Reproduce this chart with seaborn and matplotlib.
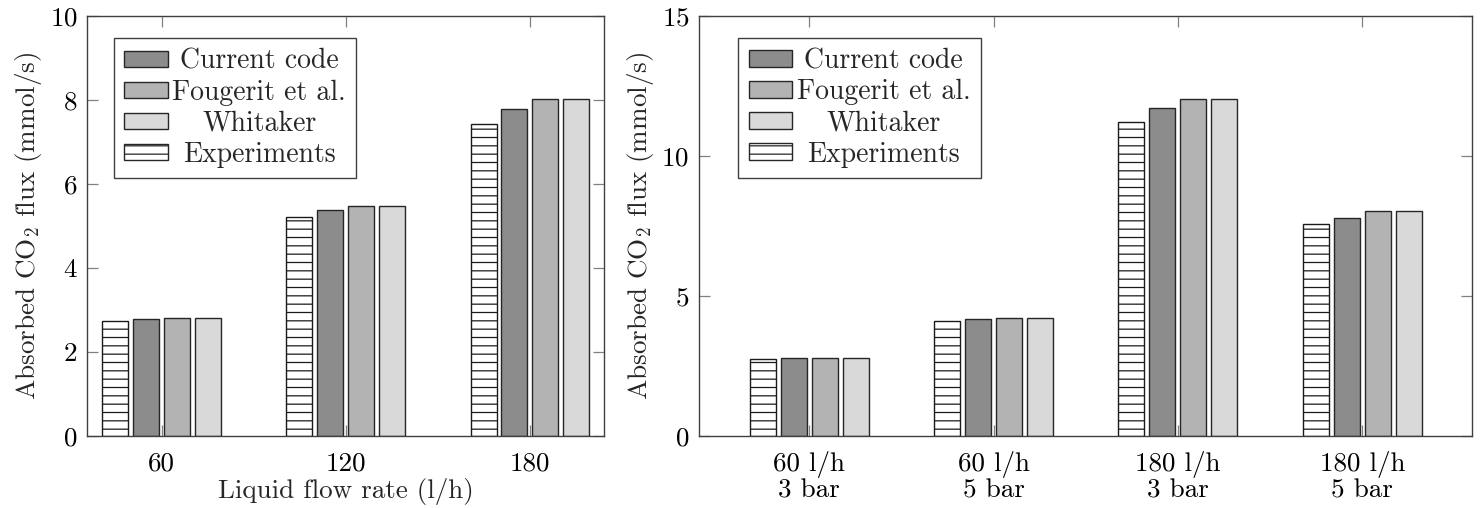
import matplotlib
matplotlib.use("Agg")
import matplotlib.pyplot as plt
import seaborn as sns
import pandas as pd
from matplotlib.patches import Patch

# ---------------- data ----------------
series = ["Experiments", "Current code", "Fougerit et al.", "Whitaker"]
legend_order = ["Current code", "Fougerit et al.", "Whitaker", "Experiments"]

left_cats = ["60", "120", "180"]
left_exp = [2.73, 5.22, 7.43]
left_cur = [2.78, 5.39, 7.79]
left_fou = [2.80, 5.47, 8.02]
left_whi = [2.80, 5.47, 8.02]

right_cats = ["60 l/h\n3 bar", "60 l/h\n5 bar", "180 l/h\n3 bar", "180 l/h\n5 bar"]
right_exp = [2.74, 4.11, 11.23, 7.57]
right_cur = [2.79, 4.19, 11.71, 7.79]
right_fou = [2.80, 4.21, 12.03, 8.04]
right_whi = [2.80, 4.21, 12.03, 8.04]

left_yticks = [0, 2, 4, 6, 8, 10]
right_yticks = [0, 5, 10, 15]

colors = {"Experiments": "#ffffff", "Current code": "#8c8c8c",
          "Fougerit et al.": "#b3b3b3", "Whitaker": "#d9d9d9"}


def long_df(cats, *vals):
    rows = []
    for s, v in zip(series, vals):
        for c, y in zip(cats, v):
            rows.append({"cat": c, "series": s, "val": y})
    return pd.DataFrame(rows)


df_left = long_df(left_cats, left_exp, left_cur, left_fou, left_whi)
df_right = long_df(right_cats, right_exp, right_cur, right_fou, right_whi)

# ---------------- style ----------------
FS = 19.5
LFS = 20
sns.set_theme(style="ticks")
plt.rcParams.update({
    "font.family": "serif",
    "font.serif": ["cmr10"],
    "mathtext.fontset": "cm",
    "axes.formatter.use_mathtext": True,
    "font.size": FS,
    "hatch.linewidth": 0.9,
    "axes.edgecolor": "#404040",
    "axes.linewidth": 1.0,
})

fig = plt.figure(figsize=(14.81, 5.08), dpi=100)
ax1 = fig.add_axes([0.05895, 0.1417, 0.3490, 0.8268])
ax2 = fig.add_axes([0.4720, 0.1417, 0.5222, 0.8268])

ylabel = "Absorbed CO$_2$ flux (mmol/s)"


def draw(ax, df, cats, ylim, yticks, xlim, legpos):
    sns.barplot(data=df, x="cat", y="val", hue="series", order=cats,
                hue_order=series, palette=colors, width=0.672, gap=0.16,
                edgecolor="#262626", linewidth=1.0, legend=False, ax=ax,
                errorbar=None)
    for bar in ax.containers[0]:
        bar.set_hatch("--")
        bar.set_edgecolor("#1a1a1a")
    ax.set_xlim(*xlim)
    ax.set_ylim(*ylim)
    ax.set_yticks(yticks)
    ax.set_ylabel(ylabel, fontsize=FS, labelpad=4)
    ax.set_xlabel("")
    ax.tick_params(axis="both", direction="in", length=8, width=0.9,
                   color="#808080", top=True, right=True, labelsize=FS,
                   labelcolor="black")
    ax.tick_params(axis="y", pad=7)
    ax.tick_params(axis="x", pad=11)
    for sp in ax.spines.values():
        sp.set_visible(True)
        sp.set_color("#404040")
    handles = [Patch(facecolor=colors[s], edgecolor="#262626",
                     hatch="--" if s == "Experiments" else None, label=s)
               for s in legend_order]
    leg = ax.legend(handles=handles, loc="upper left",
                    bbox_to_anchor=legpos, borderaxespad=0,
                    fancybox=False, frameon=True, edgecolor="#404040",
                    framealpha=1, fontsize=LFS, handlelength=1.58,
                    handleheight=0.54, handletextpad=0.15, labelspacing=0.17,
                    borderpad=0.37)
    leg.get_frame().set_linewidth(1.0)
    return leg


leg1 = draw(ax1, df_left, left_cats, (0, 10), left_yticks, (-0.403, 2.403),
            (0.0517, 0.947))
ax1.set_xlabel("Liquid flow rate (l/h)", fontsize=FS, labelpad=2)
leg2 = draw(ax2, df_right, right_cats, (0, 15), right_yticks, (-0.597, 3.597),
            (0.0508, 0.948))
for t in ax2.get_xticklabels():
    t.set_linespacing(1.0)

# center legend texts within their column
fig.canvas.draw()
for leg in (leg1, leg2):
    texts = leg.get_texts()
    widths = [t.get_window_extent().width for t in texts]
    mw = max(widths)
    for t, w in zip(texts, widths):
        t.set_x((mw - w) / 2)

fig.savefig("out.png", dpi=100)
